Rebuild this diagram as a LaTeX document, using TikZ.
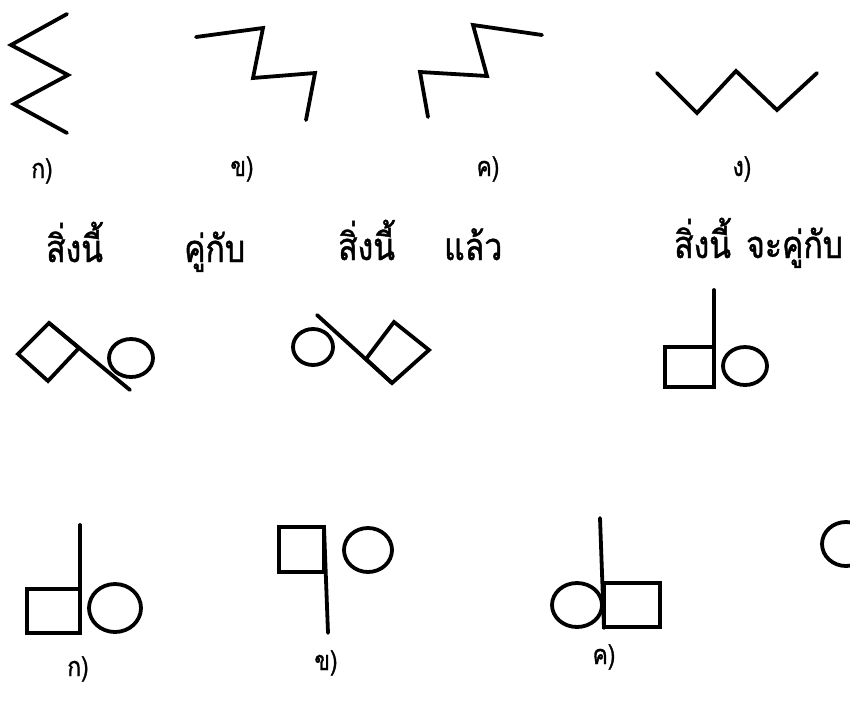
\documentclass[tikz,border=0pt]{standalone}
\usepackage{fontspec}
\newfontfamily\thaifont[Script=Thai,FakeStretch=0.84,FakeBold=1.2]{Loma}
\begin{document}
\begin{tikzpicture}[x=1pt,y=-1pt,
  ink/.style={line width=3.8pt, line join=miter, line cap=round},
  word/.style={font=\thaifont\fontsize{38}{42}\selectfont, inner sep=0pt, anchor=base west},
  lab/.style={font=\thaifont\fontsize{27}{30}\selectfont, inner sep=0pt, anchor=base}]
\useasboundingbox (0,0) rectangle (850,702);
\clip (0,0) rectangle (850,702);
% --- top row: zigzags ---
\draw[ink] (67,14) -- (11,45) -- (68,75) -- (14,104) -- (67,133);
\draw[ink] (196,37) -- (263,28) -- (253,78) -- (315,73) -- (306,120);
\draw[ink] (428,117) -- (420,72) -- (487,76) -- (473,25) -- (542,35);
\draw[ink] (657,73) -- (697,113) -- (736,71) -- (777,110) -- (817,73);
\node[lab] (la) at (42,178) {ก)};
\node[lab] (lb) at (242,176) {ข)};
\node[lab] (lc) at (488,176) {ค)};
\node[lab] (ld) at (742,176) {ง)};
% --- words ---
\node[word] (w1) at (46,262) {สิ่งนี้};
\node[word] (w2) at (184,262) {คู่กับ};
\node[word] (w3) at (338,260) {สิ่งนี้};
\node[word] (w4) at (444,260) {แล้ว};
\node[word] (w5) at (674,258) {สิ่งนี้};
\node[word] (w6) at (746,258) {จะคู่กับ};
% --- middle row ---
\draw[ink] (49,323) -- (79,348) -- (48,381) -- (18,354) -- cycle;
\draw[ink] (49,323) -- (130,390);
\draw[ink] (131,358) ellipse [x radius=22, y radius=19];
\draw[ink] (313,347) ellipse [x radius=20, y radius=18];
\draw[ink] (317,315) -- (392,383);
\draw[ink] (366,359) -- (394,322) -- (429,350) -- (392,383) -- cycle;
\draw[ink] (665,347) rectangle (714,387);
\draw[ink] (714,290) -- (714,387);
\draw[ink] (745,366) ellipse [x radius=22, y radius=19];
% --- bottom row ---
\draw[ink] (27,589) rectangle (80,633);
\draw[ink] (80,525) -- (80,633);
\draw[ink] (115,608) ellipse [x radius=26, y radius=24];
\draw[ink] (279,527) rectangle (324,572);
\draw[ink] (324,527) -- (328,633);
\draw[ink] (368,550) ellipse [x radius=24, y radius=22];
\draw[ink] (600,518) -- (604,628);
\draw[ink] (577,605) ellipse [x radius=25, y radius=22];
\draw[ink] (604,583) rectangle (660,627);
\draw[ink] (846,544) ellipse [x radius=24, y radius=22];
\node[lab] (ba) at (78,676) {ก)};
\node[lab] (bb) at (326,670) {ข)};
\node[lab] (bc) at (604,664) {ค)};
\end{tikzpicture}
\end{document}
